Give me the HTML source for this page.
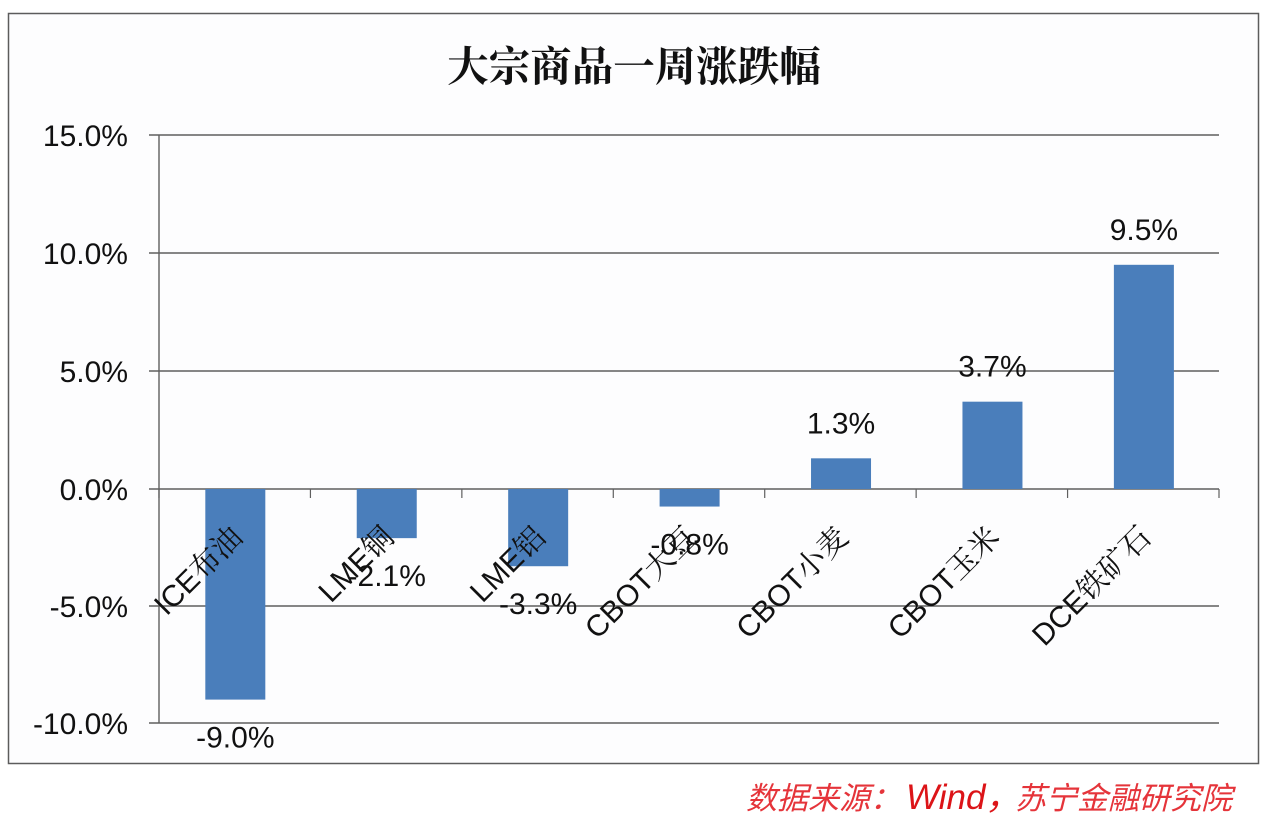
<!DOCTYPE html>
<html lang="zh">
<head>
<meta charset="utf-8">
<title>大宗商品一周涨跌幅</title>
<style>
html,body{margin:0;padding:0;background:#fff;}
body{width:1268px;height:818px;overflow:hidden;}
svg{display:block;}
text{font-family:"Liberation Sans","Noto Sans CJK SC",sans-serif;fill:#111;}
</style>
</head>
<body>
<svg id="chart" width="1268" height="818" viewBox="0 0 1268 818">
  <rect x="0" y="0" width="1268" height="818" fill="#fff"/>
  <rect x="8.5" y="13.5" width="1250" height="750" fill="#fdfdfe" stroke="#5c5c5c" stroke-width="1.5"/>
  <text x="634" y="81" text-anchor="middle" style="font-family:'Noto Serif CJK SC','Liberation Serif',serif;font-weight:700;font-size:41.5px;fill:#111">大宗商品一周涨跌幅</text>
  <g id="grid"></g>
  <g id="bars"></g>
  <g id="value-labels"></g>
  <g id="category-labels"></g>
  <text y="809" style="font-family:'Liberation Sans','Noto Sans CJK SC',sans-serif;font-style:italic;font-size:31px;fill:#e5343a"><tspan x="746">数据来源：</tspan><tspan x="906" style="font-size:35px;fill:#dc1418">Wind，</tspan><tspan x="1015">苏宁金融研究院</tspan></text>
</svg>
<script>
const categories = ["ICE布油", "LME铜", "LME铝", "CBOT大豆", "CBOT小麦", "CBOT玉米", "DCE铁矿石"];
const values = [-9.0, -2.1, -3.3, -0.75, 1.3, 3.7, 9.5];
const tickValues = [15, 10, 5, 0, -5, -10];

const NS = "http://www.w3.org/2000/svg";
const plotLeft = 159, plotRight = 1219, zeroY = 489;

function yScale(v) {
  return zeroY - v * (v >= 0 ? 23.6 : 23.4);
}
function xBand(i) {
  return plotLeft + (plotRight - plotLeft) * i / categories.length;
}
function xCenter(i) {
  return xBand(i) + (plotRight - plotLeft) / categories.length / 2 + 0.6;
}
function make(tag, attrs, parent, txt) {
  const el = document.createElementNS(NS, tag);
  for (const k in attrs) el.setAttribute(k, attrs[k]);
  if (txt !== undefined) el.textContent = txt;
  parent.appendChild(el);
  return el;
}

const grid = document.getElementById("grid");
const barsG = document.getElementById("bars");
const valG = document.getElementById("value-labels");
const catG = document.getElementById("category-labels");

tickValues.forEach(function (t) {
  const y = yScale(t);
  const line = make("line", {x1: plotLeft - 10, x2: plotRight, y1: y, y2: y, stroke: "#5f5f5f", "stroke-width": 1.4}, grid);
  
  
  const label = make("text", {x: 128, y: y + 11, "text-anchor": "end", "font-size": 30}, grid, t.toFixed(1) + "%");
  
  
});

const yAxis = make("line", {x1: plotLeft, x2: plotLeft, y1: yScale(15), y2: yScale(-10), stroke: "#5f5f5f", "stroke-width": 1.4}, grid);



for (let i = 0; i <= categories.length; i++) {
  const tick = make("line", {x1: xBand(i), x2: xBand(i), y1: zeroY, y2: zeroY + 9, stroke: "#5f5f5f", "stroke-width": 1.2}, grid);
  
  
}

values.forEach(function (v, i) {
  const cx = xCenter(i);
  const yv = yScale(v);
  const bar = make("rect", {x: cx - 30, y: Math.min(yv, zeroY), width: 60, height: Math.abs(yv - zeroY), fill: "#4a7ebb"}, barsG);
  
  
  const ly = v >= 0 ? yv - 25 : yv + 48;
  const val = make("text", {x: cx, y: ly, "text-anchor": "middle", "font-size": 30}, valG, v.toFixed(1) + "%");
  
  
});

categories.forEach(function (c, i) {
  const cx = xCenter(i) + 9;
  const cat = make("text", {x: 0, y: 0, "text-anchor": "end", "font-size": 30, transform: "translate(" + cx + ",539) rotate(-45)"}, catG, c);
  cat.style.fontFamily = '"Liberation Sans","Noto Serif CJK SC",serif';
  
  
});
</script>
</body>
</html>
